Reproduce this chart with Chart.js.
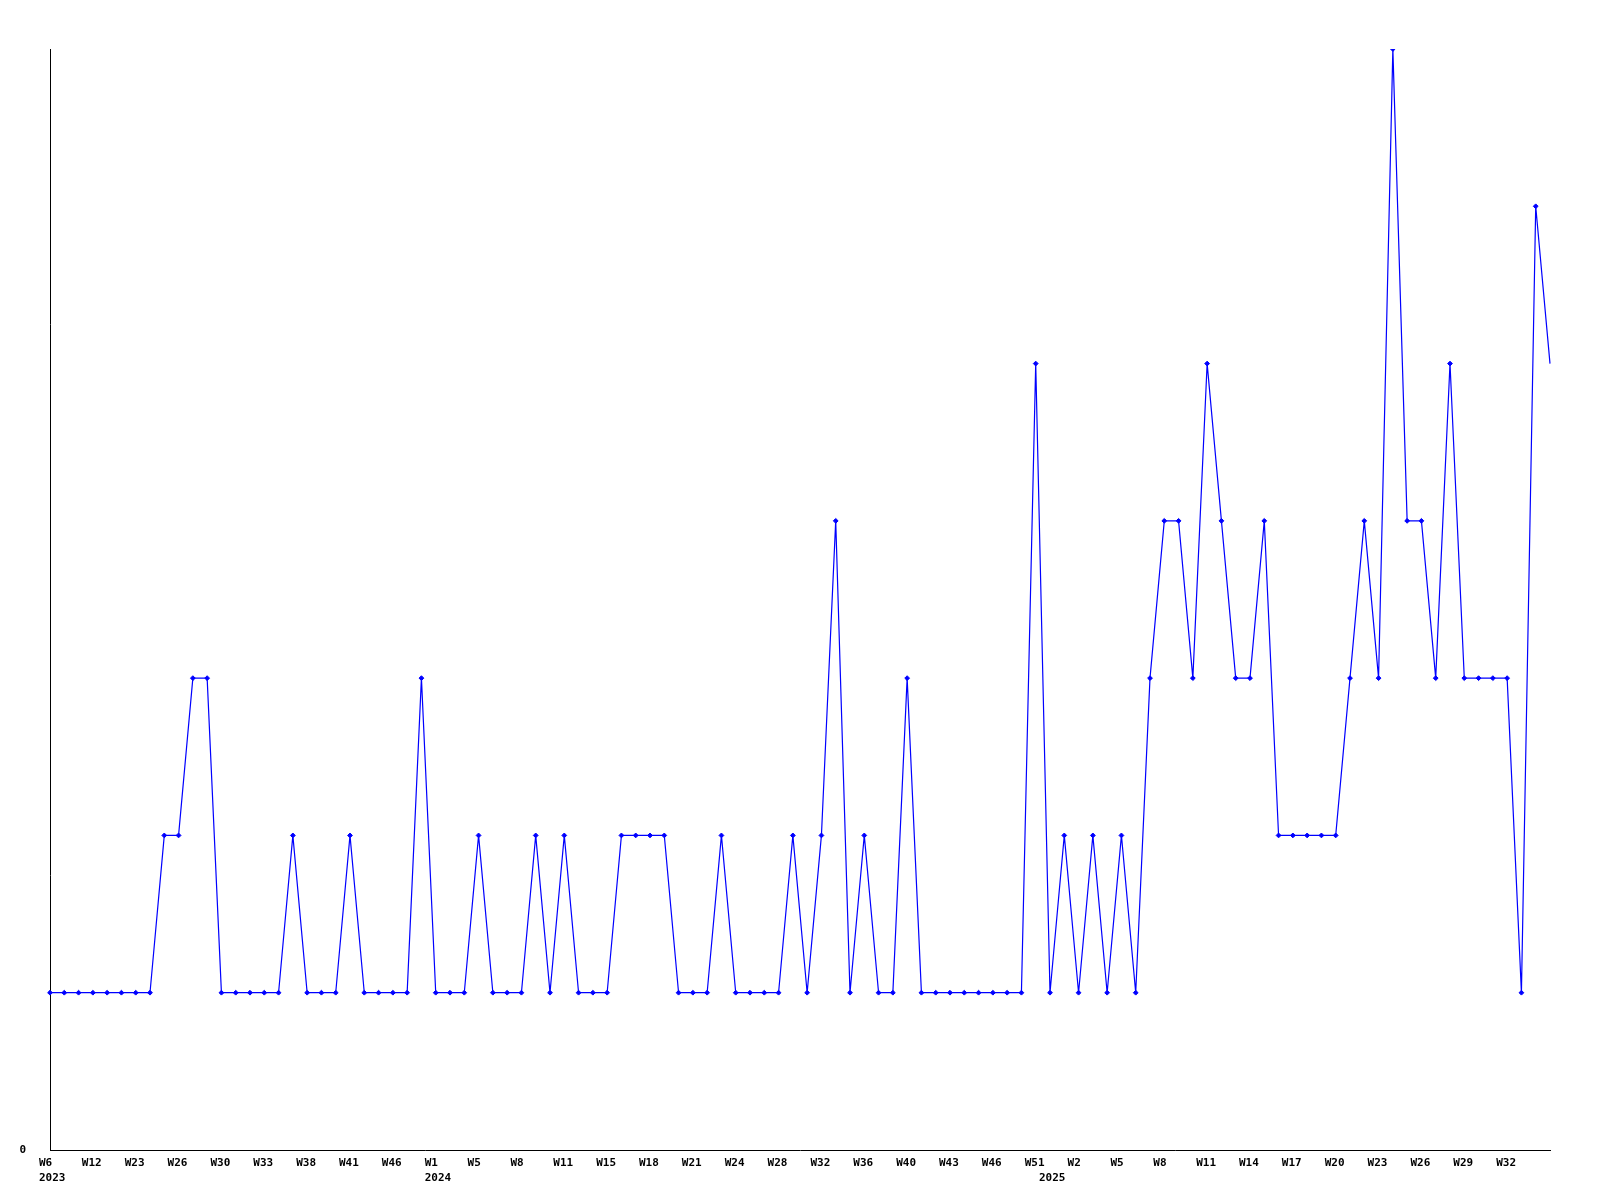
<!DOCTYPE html>
<html>
<head>
<meta charset="utf-8">
<title>Weekly count</title>
<script src="https://cdn.jsdelivr.net/npm/chart.js@4/dist/chart.umd.min.js"></script>
<style>
  html, body { margin: 0; padding: 0; background: #fff; }
  #wrap { width: 1600px; height: 1200px; }
</style>
</head>
<body>
<div id="wrap"><canvas id="chart_div" width="1600" height="1200"></canvas></div>
<script>
// week labels shown under every third point
var tickWeeks = ['W6', 'W12', 'W23', 'W26', 'W30', 'W33', 'W38', 'W41', 'W46',
                 'W1', 'W5', 'W8', 'W11', 'W15', 'W18', 'W21', 'W24', 'W28', 'W32',
                 'W36', 'W40', 'W43', 'W46', 'W51',
                 'W2', 'W5', 'W8', 'W11', 'W14', 'W17', 'W20', 'W23', 'W26', 'W29', 'W32'];
var tickEvery = 3;

// year labels sit on the point where the year starts
var years = ['2023', '2024', '2025'];
var yearAt = [0, 27, 70];

// one value per point
var counts = [1, 1, 1, 1, 1, 1, 1, 1, 2, 2,
              3, 3, 1, 1, 1, 1, 1, 2, 1, 1,
              1, 2, 1, 1, 1, 1, 3, 1, 1, 1,
              2, 1, 1, 1, 2, 1, 2, 1, 1, 1,
              2, 2, 2, 2, 1, 1, 1, 2, 1, 1,
              1, 1, 2, 1, 2, 4, 1, 2, 1, 1,
              3, 1, 1, 1, 1, 1, 1, 1, 1, 5,
              1, 2, 1, 2, 1, 2, 1, 3, 4, 4,
              3, 5, 4, 3, 3, 4, 2, 2, 2, 2,
              2, 3, 4, 3, 7, 4, 4, 3, 5, 3,
              3, 3, 3, 1, 6, 5];
var yMin = 0;
var yMax = 7;

var labels = counts.map(function(v, i) { return i; });

var font = { family: '"DejaVu Sans Mono", monospace', size: 11, weight: 'bold', lineHeight: 1.35 };

var ctx = document.getElementById('chart_div').getContext('2d');
var chart = new Chart(ctx, {
    type: 'line',
    data: {
        labels: labels,
        datasets: [{
            data: counts,
            borderColor: '#0000ff',
            backgroundColor: '#0000ff',
            borderWidth: 1.2,
            tension: 0,
            fill: false,
            pointStyle: 'rectRot',
            // the last point is drawn without a marker
            pointRadius: counts.map(function(v, i) { return i === counts.length - 1 ? 0 : 2.4; }),
            pointBorderWidth: 1
        }]
    },
    options: {
        responsive: false,
        animation: false,
        layout: { padding: { top: 49, right: 50, left: 0, bottom: 0 } },
        plugins: { legend: { display: false }, tooltip: { enabled: false } },
        scales: {
            x: {
                type: 'category',
                offset: false,
                grid: { display: false, drawTicks: false },
                border: { display: true, color: '#000', width: 1 },
                afterFit: function(scale) { scale.height = 50; },
                ticks: {
                    autoSkip: false,
                    maxRotation: 0,
                    minRotation: 0,
                    align: 'start',
                    labelOffset: -11,
                    padding: 6,
                    color: '#000',
                    font: font,
                    callback: function(value, index) {
                        var week = '';
                        if (index % tickEvery === 0 && index / tickEvery < tickWeeks.length) {
                            week = tickWeeks[index / tickEvery];
                        }
                        var y = yearAt.indexOf(index);
                        if (y >= 0) return [week, years[y]];
                        return week ? week : null;
                    }
                }
            },
            y: {
                min: yMin,
                max: yMax,
                grid: { display: false, drawTicks: false },
                border: { display: true, color: '#000', width: 1 },
                afterFit: function(scale) { scale.width = 50; },
                ticks: {
                    stepSize: 1,
                    padding: 24,
                    color: '#000',
                    font: font,
                    callback: function(value) { return value === 0 ? '0' : null; }
                }
            }
        }
    }
});
</script>
</body>
</html>
